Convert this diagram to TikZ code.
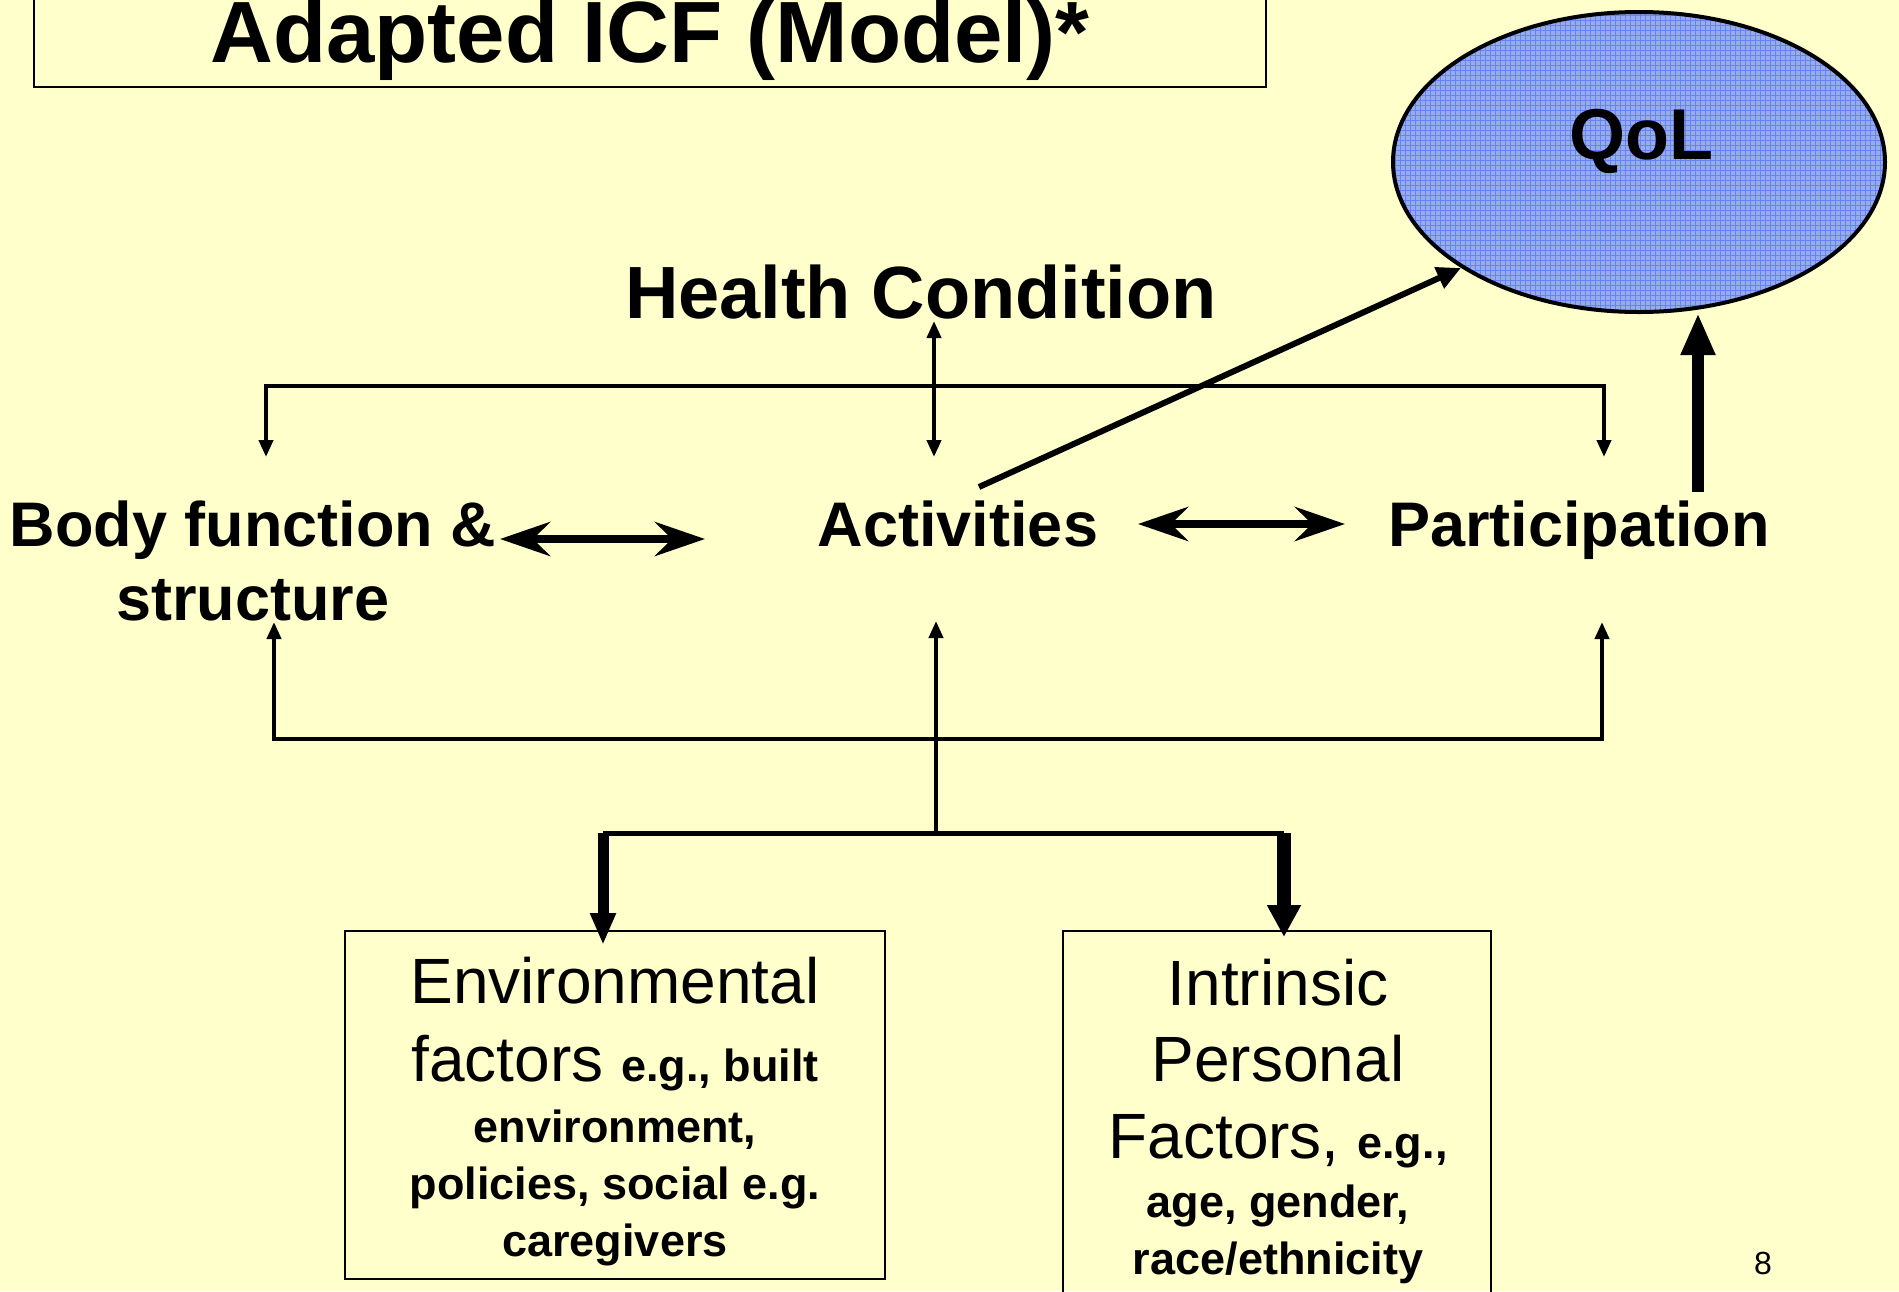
\documentclass[tikz,border=0pt]{standalone}
\usepackage{fontspec}
\setmainfont{Liberation Sans}
\usetikzlibrary{arrows.meta,shapes.geometric}
\definecolor{bgyellow}{RGB}{255,255,204}
\definecolor{qolfill}{RGB}{152,172,230}
\definecolor{qolgrid}{RGB}{100,130,255}
\newcommand\egfont{\fontsize{45}{50}\selectfont\bfseries}
\begin{document}
\begin{tikzpicture}[x=1pt,y=-1pt,
  big/.style={inner sep=0pt,anchor=base,font=\fontsize{63}{74}\selectfont\bfseries},
  boxtxt/.style={inner sep=0pt,anchor=base,font=\fontsize{64}{70}\selectfont},
  egtxt/.style={inner sep=0pt,anchor=base,font=\egfont},
  thinboth/.style={line width=4pt,{Triangle[length=17pt,width=14pt]}-{Triangle[length=17pt,width=14pt]}},
  thinend/.style={line width=4pt,-{Triangle[length=17pt,width=14pt]}},
  dbl/.style={line width=8pt,{Stealth[length=50pt,width=34pt,inset=17pt]}-{Stealth[length=50pt,width=34pt,inset=17pt]}},
  diag/.style={line width=6pt,-{Triangle[length=24pt,width=22pt]}},
  thick/.style={line width=12pt,-{Triangle[length=42pt,width=32pt]}},
  drop/.style={-{Triangle[length=32pt,width=#1]}},
  factbox/.style={draw,line width=2pt,inner sep=0pt}]
\fill[bgyellow] (0,0) rectangle (1899,1291);
\useasboundingbox (0,0) rectangle (1899,1291);

% title
\draw[line width=2pt] (34,-20) rectangle (1266,87);
\node[inner sep=0pt,anchor=base,font=\fontsize{87}{90}\selectfont\bfseries] (title) at (650,62) {Adapted ICF (Model)*};

% QoL ellipse
\begin{scope}
  \clip (1639,162) ellipse [x radius=246, y radius=150];
  \fill[qolfill] (1380,0) rectangle (1899,320);
  \draw[qolgrid,line width=0.7pt,step=5pt] (1380,0) grid (1899,320);
\end{scope}
\node[ellipse,draw,line width=4pt,minimum width=492pt,minimum height=300pt,inner sep=0pt] (qol) at (1639,162) {};
\node[inner sep=0pt,anchor=base,font=\fontsize{72}{80}\selectfont\bfseries] (qoltxt) at (1641,159) {QoL};

% main labels
\node[inner sep=0pt,anchor=base,font=\fontsize{74}{80}\selectfont\bfseries] (health) at (921,318) {Health Condition};
\node[big] (body1) at (253,546) {Body function \&};
\node[big] (body2) at (253,620) {structure};
\node[big] (act) at (958,546) {Activities};
\node[big] (part) at (1579,546) {Participation};

% coordinates
\coordinate (bodyin) at (266,457);
\coordinate (tbL) at (266,386);
\coordinate (tbR) at (1604,386);
\coordinate (partin) at (1604,457);
\coordinate (hctop) at (934,321);
\coordinate (actin) at (934,457);
\coordinate (bodyR) at (500,539);
\coordinate (actL) at (705,539);
\coordinate (actR) at (1138,524);
\coordinate (partL) at (1345,524);
\coordinate (actQ) at (979,487);
\coordinate (qolSW) at (1461,268);
\coordinate (partQ) at (1698,492);
\coordinate (qolS) at (1698,313);
\coordinate (bodyup) at (274,622);
\coordinate (bbL) at (274,739);
\coordinate (bbR) at (1602,739);
\coordinate (partup) at (1602,622);
\coordinate (actup) at (936,621);
\coordinate (hub) at (936,833);
\coordinate (lbL) at (603,833);
\coordinate (lbR) at (1284,833);
\coordinate (envin) at (603,945);
\coordinate (perin) at (1284,937);

% top bracket
\draw[thinboth] (bodyin) -- (tbL) -- (tbR) -- (partin);
\draw[thinboth] (hctop) -- (actin);
% horizontal double arrows
\draw[dbl] (bodyR) -- (actL);
\draw[dbl] (actR) -- (partL);
% to QoL
\draw[diag] (actQ) -- (qolSW);
\draw[thick] (partQ) -- (qolS);
% bottom bracket
\draw[thinboth] (bodyup) -- (bbL) -- (bbR) -- (partup);
\draw[thinend] (hub) -- (actup);
\draw[line width=5pt] (lbL) -- (lbR);
\draw[line width=11pt,drop=24pt] (lbL) -- (envin);
\draw[line width=14pt,drop=32pt] (lbR) -- (perin);

% factor boxes
\node[factbox,minimum width=540pt,minimum height=348pt] (envbox) at (615,1105) {};
\node[factbox,minimum width=428pt,minimum height=379pt] (perbox) at (1277,1120.5) {};

\node[boxtxt] (e1) at (615,1003) {Environmental};
\node[boxtxt] (e2) at (615,1081) {factors {\egfont e.g., built}};
\node[egtxt] (e3) at (615,1142) {environment,};
\node[egtxt] (e4) at (615,1199) {policies, social e.g.};
\node[egtxt] (e5) at (615,1256) {caregivers};

\node[boxtxt] (p1) at (1278,1005) {Intrinsic};
\node[boxtxt] (p2) at (1278,1081) {Personal};
\node[boxtxt] (p3) at (1278,1158) {Factors, {\egfont e.g.,}};
\node[egtxt] (p4) at (1278,1217) {age, gender,};
\node[egtxt] (p5) at (1278,1274) {race/ethnicity};

\node[inner sep=0pt,anchor=base,font=\fontsize{32}{36}\selectfont] (pagenum) at (1763,1274) {8};
\end{tikzpicture}
\end{document}
